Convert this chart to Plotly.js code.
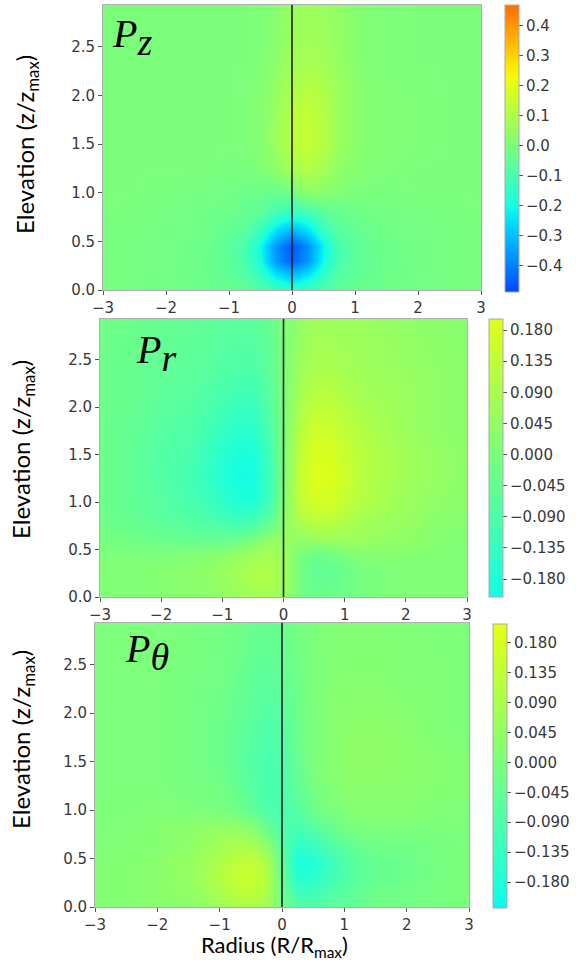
<!DOCTYPE html>
<html><head><meta charset="utf-8">
<script src="https://cdn.plot.ly/plotly-3.0.1.min.js"></script>
<style>html,body{margin:0;padding:0;background:#fff;}#plot{width:576px;height:962px;}</style>
</head><body><div id="plot"></div>
<script>
// Grid (brick centres)
const radius = [-3, -2.5, -2, -1.5, -1.25, -1, -0.75, -0.5, -0.25, 0, 0.25, 0.5, 0.75, 1, 1.25, 1.5, 2, 2.5, 3];
const elevation = [0, 0.15, 0.3, 0.45, 0.6, 0.8, 1.0, 1.25, 1.5, 1.75, 2.0, 2.4, 3.0];

// P_z values (rows = elevation, cols = radius)
const pz = [
 [-0.005,-0.01,-0.015,-0.02,-0.03,-0.04,-0.05,-0.08,-0.12,-0.15,-0.12,-0.08,-0.05,-0.04,-0.03,-0.02,-0.015,-0.01,-0.005],
 [-0.005,-0.01,-0.02,-0.03,-0.04,-0.05,-0.08,-0.14,-0.24,-0.30,-0.24,-0.14,-0.08,-0.05,-0.04,-0.03,-0.02,-0.01,-0.005],
 [-0.005,-0.01,-0.015,-0.03,-0.04,-0.06,-0.10,-0.20,-0.36,-0.45,-0.36,-0.20,-0.10,-0.06,-0.04,-0.03,-0.015,-0.01,-0.005],
 [-0.005,-0.01,-0.015,-0.03,-0.04,-0.06,-0.10,-0.21,-0.37,-0.47,-0.37,-0.21,-0.10,-0.06,-0.04,-0.03,-0.015,-0.01,-0.005],
 [-0.005,-0.01,-0.015,-0.02,-0.03,-0.05,-0.07,-0.14,-0.26,-0.33,-0.26,-0.14,-0.07,-0.05,-0.03,-0.02,-0.015,-0.01,-0.005],
 [0,-0.005,-0.01,-0.02,-0.025,-0.03,-0.04,-0.06,-0.11,-0.14,-0.11,-0.06,-0.04,-0.03,-0.02,-0.015,-0.01,-0.005,0],
 [0,0,-0.005,-0.01,-0.015,-0.02,-0.03,-0.03,-0.04,-0.02,0.03,0.02,0.01,0.0,-0.005,-0.005,0,0,0],
 [0,0,0,0,0,-0.005,-0.005,0.01,0.04,0.09,0.11,0.08,0.04,0.02,0.01,0.005,0,0,0],
 [0,0,0,0,0,0,0.005,0.02,0.06,0.12,0.14,0.11,0.06,0.03,0.015,0.01,0.005,0,0],
 [0,0,0,0,0,0,0.005,0.02,0.06,0.12,0.14,0.11,0.06,0.03,0.015,0.01,0.005,0,0],
 [0,0,0,0,0,0,0.005,0.02,0.05,0.10,0.12,0.10,0.06,0.03,0.015,0.01,0.005,0,0],
 [0,0,0,0,0,0,0,0.01,0.03,0.07,0.08,0.07,0.05,0.02,0.01,0.005,0,0,0],
 [0,0,0,0,0,0,0,0.005,0.02,0.05,0.06,0.05,0.04,0.02,0.01,0.005,0,0,0]
];

// P_r values
const pr = [
 [0.01,0.01,0.02,0.03,0.03,0.04,0.05,0.07,0.08,0.05,-0.01,-0.03,-0.03,-0.02,-0.01,0,0.01,0.01,0.01],
 [0.01,0.01,0.02,0.03,0.04,0.05,0.07,0.09,0.10,0.07,-0.01,-0.04,-0.04,-0.03,-0.01,0,0.01,0.01,0.01],
 [0.01,0.01,0.02,0.03,0.04,0.05,0.07,0.09,0.10,0.07,-0.01,-0.05,-0.05,-0.03,-0.01,0,0.01,0.01,0.01],
 [0,0,0,0.01,0.02,0.03,0.05,0.07,0.08,0.06,0.0,-0.03,-0.02,0.0,0.02,0.02,0.02,0.01,0.01],
 [-0.01,-0.02,-0.03,-0.04,-0.04,-0.04,-0.03,0.0,0.04,0.05,0.04,0.05,0.06,0.06,0.06,0.05,0.04,0.02,0.01],
 [-0.02,-0.04,-0.06,-0.08,-0.09,-0.10,-0.12,-0.11,-0.06,0.03,0.09,0.12,0.12,0.10,0.08,0.07,0.05,0.03,0.02],
 [-0.03,-0.05,-0.07,-0.10,-0.12,-0.15,-0.18,-0.18,-0.12,0.01,0.13,0.17,0.17,0.14,0.11,0.09,0.06,0.04,0.03],
 [-0.03,-0.05,-0.08,-0.11,-0.14,-0.17,-0.20,-0.20,-0.13,0,0.14,0.19,0.19,0.16,0.12,0.10,0.07,0.05,0.03],
 [-0.03,-0.05,-0.08,-0.10,-0.13,-0.16,-0.19,-0.19,-0.12,0,0.13,0.18,0.18,0.15,0.12,0.10,0.07,0.05,0.03],
 [-0.03,-0.05,-0.07,-0.09,-0.11,-0.14,-0.16,-0.16,-0.10,0,0.11,0.16,0.16,0.13,0.11,0.09,0.06,0.04,0.03],
 [-0.03,-0.04,-0.06,-0.08,-0.09,-0.11,-0.13,-0.13,-0.08,0,0.09,0.13,0.13,0.11,0.09,0.08,0.06,0.04,0.03],
 [-0.03,-0.04,-0.05,-0.06,-0.07,-0.08,-0.09,-0.09,-0.06,0,0.06,0.09,0.09,0.08,0.07,0.06,0.05,0.04,0.03],
 [-0.02,-0.03,-0.04,-0.05,-0.05,-0.06,-0.06,-0.06,-0.04,0,0.04,0.06,0.06,0.06,0.06,0.05,0.04,0.03,0.02]
];

// P_theta values
const pt = [
 [0.01,0.01,0.02,0.03,0.04,0.06,0.08,0.09,0.07,-0.02,-0.08,-0.08,-0.06,-0.05,-0.04,-0.02,-0.01,-0.01,0],
 [0.01,0.02,0.03,0.04,0.06,0.09,0.12,0.13,0.10,-0.03,-0.12,-0.12,-0.09,-0.07,-0.05,-0.03,-0.02,-0.01,0],
 [0.01,0.02,0.03,0.05,0.08,0.11,0.14,0.15,0.11,-0.04,-0.17,-0.16,-0.12,-0.09,-0.06,-0.04,-0.03,-0.01,0],
 [0.01,0.02,0.03,0.05,0.07,0.10,0.13,0.14,0.10,-0.05,-0.19,-0.18,-0.13,-0.09,-0.06,-0.04,-0.03,-0.01,0],
 [0.01,0.01,0.02,0.04,0.06,0.08,0.10,0.10,0.05,-0.07,-0.16,-0.14,-0.10,-0.07,-0.04,-0.03,-0.02,-0.01,0],
 [0,0.01,0.02,0.03,0.04,0.05,0.05,0.03,-0.03,-0.09,-0.11,-0.08,-0.05,-0.02,0,0,0,0,0],
 [0,0.005,0.01,0,0,-0.01,-0.02,-0.05,-0.09,-0.10,-0.07,-0.03,0,0.01,0.02,0.02,0.02,0.01,0],
 [0,0,0,-0.01,-0.01,-0.02,-0.04,-0.07,-0.10,-0.10,-0.05,-0.01,0.01,0.03,0.03,0.03,0.03,0.02,0.01],
 [0,0,0,-0.01,-0.02,-0.03,-0.05,-0.08,-0.10,-0.09,-0.04,0,0.02,0.03,0.04,0.04,0.03,0.02,0.01],
 [0,0,0,-0.01,-0.02,-0.03,-0.05,-0.07,-0.09,-0.08,-0.03,0,0.02,0.03,0.04,0.04,0.03,0.01,0],
 [0,0,0,-0.01,-0.02,-0.03,-0.04,-0.06,-0.08,-0.07,-0.03,0,0.02,0.03,0.03,0.03,0.02,0.01,0],
 [0,0,0,-0.01,-0.01,-0.02,-0.03,-0.05,-0.06,-0.05,-0.02,0,0.01,0.02,0.02,0.02,0.01,0.01,0],
 [0,0,0,0,-0.01,-0.01,-0.02,-0.03,-0.04,-0.03,-0.01,0,0.01,0.01,0.01,0.01,0.01,0,0]
];

// colour-bar ranges and tick labels
const pzRange = [-0.487, 0.47];
const prRange = [-0.206, 0.196];
const ptRange = [-0.219, 0.208];
const pzTicks = [-0.4, -0.3, -0.2, -0.1, 0.0, 0.1, 0.2, 0.3, 0.4];
const pzTickText = ["\u22120.4","\u22120.3","\u22120.2","\u22120.1","0.0","0.1","0.2","0.3","0.4"];
const pTicks = [-0.18, -0.135, -0.09, -0.045, 0, 0.045, 0.09, 0.135, 0.18];
const pTickText = ["\u22120.180","\u22120.135","\u22120.090","\u22120.045","0.000","0.045","0.090","0.135","0.180"];
const xTicks = [-3, -2, -1, 0, 1, 2, 3];
const xTickText = ["\u22123","\u22122","\u22121","0","1","2","3"];
const yTicks = [0, 0.5, 1.0, 1.5, 2.0, 2.5];
const yTickText = ["0.0","0.5","1.0","1.5","2.0","2.5"];

// jet colour map, sampled over the displayed part
function pw(pts, f) {
  for (let i = 1; i < pts.length; i++) {
    if (f <= pts[i][0]) {
      const a = pts[i-1], b = pts[i];
      return a[1] + (b[1]-a[1]) * (f - a[0]) / (b[0] - a[0]);
    }
  }
  return pts[pts.length-1][1];
}
function jet(f) {
  const r = pw([[0,0],[0.35,0],[0.66,1],[0.89,1],[1,0.5]], f);
  const g = pw([[0,0],[0.125,0],[0.375,1],[0.64,1],[0.91,0],[1,0]], f);
  const b = pw([[0,0.5],[0.11,1],[0.34,1],[0.65,0],[1,0]], f);
  return 'rgb(' + Math.round(r*255) + ',' + Math.round(g*255) + ',' + Math.round(b*255) + ')';
}
const V = 0.8;
function scaleFor(range) {
  const f0 = 0.5 + range[0]/(2*V), f1 = 0.5 + range[1]/(2*V);
  const cs = [];
  for (let i = 0; i <= 40; i++) {
    const t = i/40;
    cs.push([t, jet(f0 + t*(f1-f0))]);
  }
  return cs;
}

const W = 576, H = 962;
const tickFont = {family: 'DejaVu Sans', size: 15, color: '#383838'};

function cbar(left, top, bottom, vals, text) {
  return {
    x: left/W, xanchor: 'left', xpad: 0,
    y: 1 - (top+bottom)/2/H, yanchor: 'middle', ypad: 0,
    len: bottom-top, lenmode: 'pixels', thickness: 14,
    outlinewidth: 1, outlinecolor: '#aaaaaa',
    tickvals: vals, ticktext: text, ticks: 'outside', ticklen: 4, tickcolor: '#555',
    tickfont: tickFont
  };
}

function hm(z, range, xa, ya, cb) {
  return {
    type: 'heatmap', x: radius, y: elevation, z: z,
    zmin: range[0], zmax: range[1], colorscale: scaleFor(range),
    zsmooth: 'best', xaxis: xa, yaxis: ya, colorbar: cb, hoverinfo: 'skip'
  };
}

const traces = [
  hm(pz, pzRange, 'x', 'y', cbar(505, 5, 292, pzTicks, pzTickText)),
  hm(pr, prRange, 'x2', 'y2', cbar(489, 319, 597, pTicks, pTickText)),
  hm(pt, ptRange, 'x3', 'y3', cbar(493, 624, 908, pTicks, pTickText))
];

function xax(l, r, anchor) {
  return {domain: [l/W, r/W], range: [-3, 3], anchor: anchor, tickvals: xTicks, ticktext: xTickText,
    ticks: 'outside', ticklen: 4, tickcolor: '#555', tickfont: tickFont,
    showline: true, mirror: true, linecolor: '#b0b0b0', linewidth: 1,
    showgrid: false, zeroline: false, fixedrange: true};
}
function yax(top, bottom, anchor) {
  return {domain: [1 - bottom/H, 1 - top/H], range: [0, 2.93], anchor: anchor, tickvals: yTicks, ticktext: yTickText,
    ticks: 'outside', ticklen: 4, tickcolor: '#555', tickfont: tickFont,
    showline: true, mirror: true, linecolor: '#b0b0b0', linewidth: 1,
    showgrid: false, zeroline: false, fixedrange: true};
}

const titleFont = {family: 'Lato', size: 24, color: '#000'};
const xTitleFont = {family: 'Lato', size: 22, color: '#000'};
const labelFont = {family: 'Liberation Serif', size: 40, color: '#000'};

function ann(text, x, y, font, extra) {
  return Object.assign({text: text, xref: 'paper', yref: 'paper', x: x/W, y: 1 - y/H,
    xanchor: 'center', yanchor: 'middle',
    showarrow: false, font: font}, extra || {});
}

const subSpan = s => '<i>P</i><sub><span style="font-size:38px"><i>' + s + '</i></span></sub>';

const layout = {
  width: W, height: H, margin: {l: 0, r: 0, t: 0, b: 0},
  paper_bgcolor: '#fff', plot_bgcolor: '#fff', showlegend: false,
  xaxis: xax(103, 481, 'y'), yaxis: yax(5, 290, 'x'),
  xaxis2: xax(100, 467, 'y2'), yaxis2: yax(319, 597, 'x2'),
  xaxis3: xax(95, 469, 'y3'), yaxis3: yax(623, 907, 'x3'),
  shapes: [
    {type: 'line', xref: 'x', yref: 'y domain', x0: 0, x1: 0, y0: 0, y1: 1, line: {color: '#222', width: 1.6}},
    {type: 'line', xref: 'x2', yref: 'y2 domain', x0: 0, x1: 0, y0: 0, y1: 1, line: {color: '#222', width: 1.6}},
    {type: 'line', xref: 'x3', yref: 'y3 domain', x0: 0, x1: 0, y0: 0, y1: 1, line: {color: '#222', width: 1.6}}
  ],
  annotations: [
    ann('Elevation (z/z<sub>max</sub>)', 27, 145, titleFont, {textangle: -90}),
    ann('Elevation (z/z<sub>max</sub>)', 22, 450, titleFont, {textangle: -90}),
    ann('Elevation (z/z<sub>max</sub>)', 22, 740, titleFont, {textangle: -90}),
    ann('Radius (R/R<sub>max</sub>)', 274, 946, xTitleFont, {borderpad: 0}),
    ann(subSpan('z'), 110, 37, labelFont, {xanchor: 'left'}),
    ann(subSpan('r'), 134, 353, labelFont, {xanchor: 'left'}),
    ann(subSpan('θ'), 123, 652, labelFont, {xanchor: 'left'})
  ]
};

Plotly.newPlot('plot', traces, layout, {staticPlot: true, displayModeBar: false});
</script>
</body></html>
